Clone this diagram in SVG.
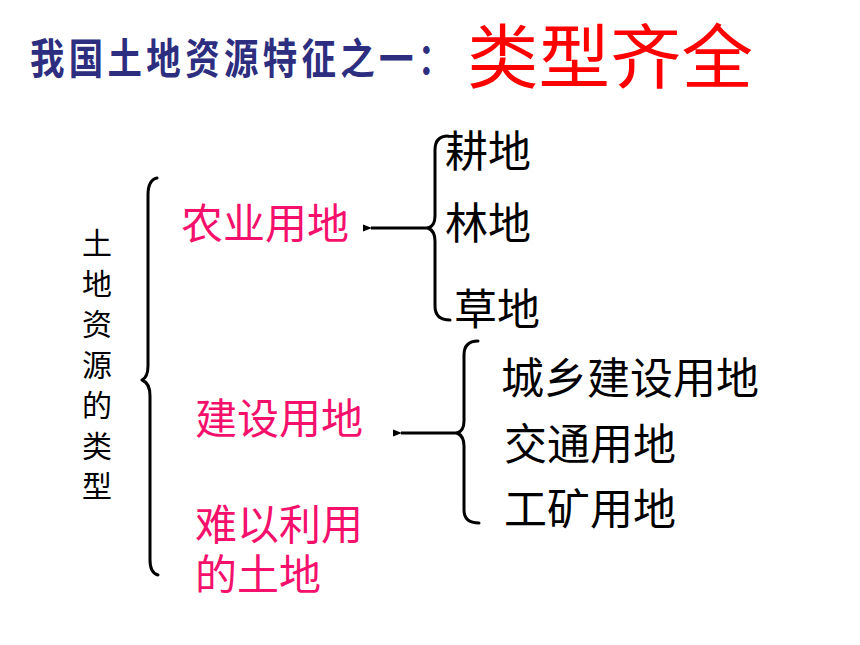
<svg xmlns="http://www.w3.org/2000/svg" width="860" height="645" viewBox="0 0 860 645">
<style>
text{font-family:"Noto Sans CJK SC","Liberation Sans",sans-serif;}
.pink{fill:#f5106c;font-size:42px;}
.blk{fill:#000;font-size:43px;}
.vert{fill:#000;font-size:30px;}
.brace{fill:none;stroke:#000;stroke-width:3;stroke-linecap:round;stroke-linejoin:round;}
.arr{stroke:#000;stroke-width:3;fill:none;}
</style>
<defs>
<marker id="ah" markerWidth="9" markerHeight="8" refX="1" refY="4" orient="auto" markerUnits="userSpaceOnUse">
<path d="M9,0.5 L0,4 L9,7.5 Z" fill="#000"/>
</marker>
</defs>
<rect width="860" height="645" fill="#fff"/>
<g id="title">
<text transform="translate(30,74) scale(0.82,1)" x="0" y="0" font-size="42" font-weight="bold" fill="#2e2e80" textLength="515" lengthAdjust="spacing">我国土地资源特征之一：</text>
<text x="467" y="83" font-size="70" fill="#ff0000" textLength="286" lengthAdjust="spacingAndGlyphs">类型齐全</text>
</g>
<g id="root">
<text class="vert" x="82" y="254">土</text>
<text class="vert" x="82" y="294.5">地</text>
<text class="vert" x="82" y="335">资</text>
<text class="vert" x="82" y="375.5">源</text>
<text class="vert" x="82" y="416">的</text>
<text class="vert" x="82" y="456.5">类</text>
<text class="vert" x="82" y="497">型</text>
</g>
<g id="agri"><text class="pink" x="181" y="239">农业用地</text></g>
<g id="build"><text class="pink" x="195" y="434">建设用地</text></g>
<g id="hard"><text class="pink" x="195" y="540">难以利用</text><text class="pink" x="195" y="590">的土地</text></g>
<g id="gengdi"><text class="blk" x="445" y="167">耕地</text></g>
<g id="lindi"><text class="blk" x="445" y="239">林地</text></g>
<g id="caodi"><text class="blk" x="454" y="325">草地</text></g>
<g id="chengxiang"><text class="blk" x="501" y="394">城乡建设用地</text></g>
<g id="jiaotong"><text class="blk" x="504" y="460">交通用地</text></g>
<g id="gongkuang"><text class="blk" x="504" y="525">工矿用地</text></g>
<g id="connectors">
<path class="brace" d="M157,178 Q148,180 148,195 L148,366 Q148,377 142,380 Q150,383 150,396 L150,560 Q150,573 158,575"/>
<path class="brace" d="M448,136 Q435,136 435,150 L435,216 Q435,226 428,228 Q435,231 435,241 L435,306 Q435,320 450,320"/>
<path class="brace" d="M478,341 Q464,341 464,355 L464,421 Q464,431 457,433 Q464,436 464,446 L464,510 Q464,523 479,523"/>
<line class="arr" x1="428" y1="228" x2="371" y2="228" marker-end="url(#ah)"/>
<line class="arr" x1="457" y1="433" x2="401" y2="433" marker-end="url(#ah)"/>
</g>
</svg>
